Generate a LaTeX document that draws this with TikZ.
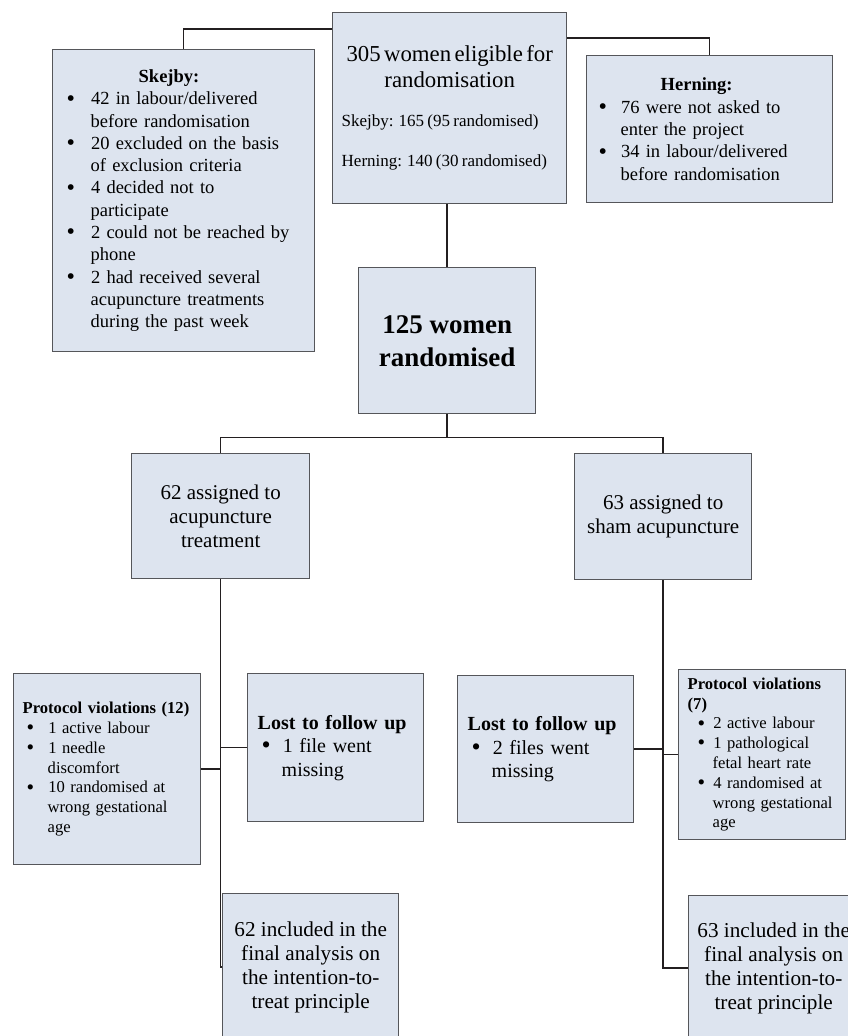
\documentclass[tikz,border=0pt]{standalone}
\usepackage{fontspec}
\setmainfont{Liberation Serif}
\usepackage{graphicx}
\usepackage{enumitem}
\usepackage{xcolor}
\definecolor{boxfill}{RGB}{221,228,239}
\definecolor{boxline}{RGB}{85,86,90}
\definecolor{joinline}{RGB}{35,31,32}
\setlist[itemize]{nosep,align=left,label=\raisebox{-0.07em}{\scalebox{1.3}{\textbullet}}}

\begin{document}
\begin{tikzpicture}[x=1pt,y=-1pt,
  box/.style={draw=boxline,fill=boxfill,line width=1.4pt,anchor=north west,inner ysep=0pt},
  link/.style={draw=joinline,line width=1.5pt}]
\useasboundingbox (0,0) rectangle (848,1036);

\node[box,minimum width=234pt,minimum height=191pt,text width=216pt,inner xsep=9pt] (elig) at (332,12)
  {{\fontsize{22.8}{26}\selectfont\centering 305 women eligible for\\ randomisation\par}
   \fontsize{17}{20}\selectfont\raggedright
   \vspace{19pt}Skejby: 165 (95 randomised)\par
   \vspace{20pt}Herning: 140 (30 randomised)\par};

\node[box,minimum width=262pt,minimum height=302pt,text width=246pt,inner xsep=8pt,
  font=\fontsize{18.5}{22.3}\selectfont] (skejby) at (52,49)
  {\noindent\hspace*{78pt}\textbf{Skejby:}
   \begin{itemize}[leftmargin=30pt,labelwidth=8pt,labelsep=16pt]
   \item 42 in labour/delivered\\ before randomisation
   \item 20 excluded on the basis\\ of exclusion criteria
   \item 4 decided not to\\ participate
   \item 2 could not be reached by\\ phone
   \item 2 had received several\\ acupuncture treatments\\ during the past week
   \end{itemize}};

\node[box,minimum width=246pt,minimum height=147pt,text width=230pt,inner xsep=8pt,
  font=\fontsize{18.5}{22.3}\selectfont] (herning) at (586,55)
  {\noindent\hspace*{66pt}\textbf{Herning:}
   \begin{itemize}[leftmargin=26pt,labelwidth=8pt,labelsep=14pt]
   \item 76 were not asked to\\ enter the project
   \item 34 in labour/delivered\\ before randomisation
   \end{itemize}};

\node[box,minimum width=177pt,minimum height=146pt,align=center,
  font=\fontsize{27}{33}\selectfont\bfseries] (rand) at (358,267) {125 women\\ randomised};

\node[box,minimum width=178pt,minimum height=125pt,align=center,
  font=\fontsize{21}{24}\selectfont] (acu) at (131,453) {62 assigned to\\ acupuncture\\ treatment};
\node[box,minimum width=177pt,minimum height=126pt,align=center,
  font=\fontsize{21}{24}\selectfont] (sham) at (574,453) {63 assigned to\\ sham acupuncture};

\node[box,minimum width=187pt,minimum height=191pt,text width=169pt,inner xsep=9pt,
  font=\fontsize{16.6}{19.8}\selectfont] (protL) at (13,673)
  {\noindent\mbox{\textbf{Protocol violations (12)}}
   \begin{itemize}[leftmargin=25pt,labelwidth=7pt,labelsep=14pt]
   \item 1 active labour
   \item 1 needle\\ discomfort
   \item 10 randomised at\\ wrong gestational\\ age
   \end{itemize}};

\node[box,minimum width=176pt,minimum height=148pt,text width=156pt,inner xsep=10pt,
  font=\fontsize{20}{23.5}\selectfont] (lostL) at (247,673)
  {\noindent\mbox{\textbf{Lost to follow up}}
   \begin{itemize}[leftmargin=24pt,labelwidth=8pt,labelsep=12pt]
   \item 1 file went\\ missing
   \end{itemize}};

\node[box,minimum width=176pt,minimum height=147pt,text width=156pt,inner xsep=10pt,
  font=\fontsize{20}{23.5}\selectfont] (lostR) at (457,675)
  {\noindent\mbox{\textbf{Lost to follow up}}
   \begin{itemize}[leftmargin=24pt,labelwidth=8pt,labelsep=12pt]
   \item 2 files went\\ missing
   \end{itemize}};

\node[box,minimum width=167pt,minimum height=170pt,text width=149pt,inner xsep=9pt,
  font=\fontsize{16.6}{19.8}\selectfont] (protR) at (678,669)
  {\noindent\textbf{Protocol violations\\ (7)}
   \begin{itemize}[leftmargin=25pt,labelwidth=7pt,labelsep=8pt]
   \item 2 active labour
   \item 1 pathological\\ fetal heart rate
   \item 4 randomised at\\ wrong gestational\\ age
   \end{itemize}};

\node[box,minimum width=176pt,minimum height=147pt,align=center,
  font=\fontsize{21.2}{24}\selectfont] (finL) at (222,893)
  {62 included in the\\ final analysis on\\ the intention-to-\\ treat principle};
\node[box,minimum width=170pt,minimum height=145pt,align=center,
  font=\fontsize{21.2}{24}\selectfont] (finR) at (688,895)
  {63 included in the\\ final analysis on\\ the intention-to-\\ treat principle};

\draw[link] ([yshift=-17pt]elig.north west) -| (skejby.north);
\draw[link] ([yshift=-26pt]elig.north east) -| (herning.north);
\draw[link] (rand.north) -- (rand.north |- elig.south);
\draw[link] (rand.south) -- ++(0,23) coordinate (split);
\draw[link] (acu.north) |- (split) -| (sham.north);
\draw[link] (acu.south) |- (finL.west);
\draw[link] (sham.south) |- (finR.west);
\draw[link] (lostL.west) -- (lostL.west -| acu.south);
\draw[link] (protL.east) -- (protL.east -| acu.south);
\draw[link] (lostR.east) -- (lostR.east -| sham.south);
\draw[link] (protR.west) -- (protR.west -| sham.south);
\end{tikzpicture}
\end{document}
